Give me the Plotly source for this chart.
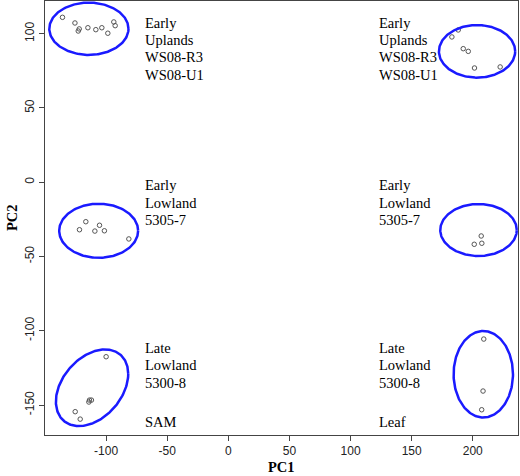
import numpy as np
import plotly.graph_objects as go

# ---- data ----
g1_x = [-135.7, -125.5, -122.0, -122.8, -114.9, -108.4, -103.5, -98.6, -93.7, -92.6]
g1_y = [111.0, 107.2, 103.2, 101.8, 104.0, 102.7, 104.0, 100.3, 107.9, 105.4]
g2_x = [188.1, 182.9, 192.2, 196.3, 201.4, 222.4]
g2_y = [102.5, 97.8, 89.9, 88.1, 76.9, 77.6]
g3_x = [-116.6, -121.8, -109.2, -105.4, -101.4, -81.4]
g3_y = [-26.6, -32.0, -32.9, -29.0, -32.7, -38.2]
g4_x = [206.9, 201.2, 207.4]
g4_y = [-36.2, -41.8, -41.1]
g5_x = [-100.0, -113.6, -112.0, -114.1, -125.3, -121.2]
g5_y = [-117.5, -146.7, -146.7, -148.0, -154.5, -159.5]
g6_x = [209.0, 208.4, 207.3]
g6_y = [-105.6, -140.6, -153.2]

# ellipses: centre x, centre y, half-width, half-height, correlation
ell_cx = [-114.1, 203.5, -106.1, 204.7, -111.5, 208.6]
ell_cy = [103.3, 88.1, -32.7, -32.2, -138.4, -129.3]
ell_rx = [32.4, 31.2, 32.3, 31.3, 29.6, 24.3]
ell_ry = [17.6, 17.7, 18.2, 17.5, 25.8, 29.1]
ell_rho = [0.0, 0.0, 0.0, 0.0, 0.36, 0.0]

left_text_x = -70
right_text_x = 122
group_text_y = [107.5, -2.2, -111.6]
group_lines = [["Early", "Uplands", "WS08-R3", "WS08-U1"],
               ["Early", "Lowland", "5305-7"],
               ["Late", "Lowland", "5300-8"]]
tissue_y = -161.3
tissue_labels = ["SAM", "Leaf"]

x_ticks = [-100, -50, 0, 50, 100, 150, 200]
y_ticks = [-150, -100, -50, 0, 50, 100]

fig = go.Figure()

for xs, ys in [(g1_x, g1_y), (g2_x, g2_y), (g3_x, g3_y), (g4_x, g4_y), (g5_x, g5_y), (g6_x, g6_y)]:
    fig.add_trace(go.Scatter(x=xs, y=ys, mode="markers",
                             marker=dict(symbol="circle-open", size=4.5, color="#555555",
                                         line=dict(width=1, color="#555555")),
                             showlegend=False, hoverinfo="skip"))

t = np.linspace(0, 2 * np.pi, 241)
for cx, cy, rx, ry, rho in zip(ell_cx, ell_cy, ell_rx, ell_ry, ell_rho):
    phi = np.arccos(rho)
    ex = cx + rx * np.cos(t)
    ey = cy + ry * np.cos(t - phi)
    fig.add_trace(go.Scatter(x=ex, y=ey, mode="lines",
                             line=dict(color="#1a1aff", width=2.5),
                             showlegend=False, hoverinfo="skip"))

serif = "Liberation Serif, Times New Roman, serif"
line_px = 17.4
annots = []
for tx in [left_text_x, right_text_x]:
    for gy, lines in zip(group_text_y, group_lines):
        for i, ln in enumerate(lines):
            annots.append(dict(x=tx, y=gy, xref="x", yref="y", text=ln, showarrow=False,
                               xanchor="left", yanchor="middle", yshift=-i * line_px,
                               font=dict(family=serif, size=14.5, color="black")))
for tx, lab in zip([left_text_x, right_text_x], tissue_labels):
    annots.append(dict(x=tx, y=tissue_y, xref="x", yref="y", text=lab, showarrow=False,
                       xanchor="left", yanchor="middle",
                       font=dict(family=serif, size=14.5, color="black")))

annots.append(dict(x=0.5, y=0, xref="paper", yref="paper", text="<b>PC1</b>",
                   showarrow=False, xanchor="center", yanchor="middle", yshift=-32,
                   font=dict(family=serif, size=14.5, color="black")))
annots.append(dict(x=0, y=0.5, xref="paper", yref="paper", text="<b>PC2</b>",
                   showarrow=False, xanchor="center", yanchor="middle", xshift=-33,
                   textangle=-90, font=dict(family=serif, size=14.5, color="black")))

sans = "Liberation Sans, Arial, sans-serif"
fig.update_layout(
    width=520, height=476,
    margin=dict(l=45, r=2, t=1, b=41),
    paper_bgcolor="white", plot_bgcolor="white",
    annotations=annots,
    xaxis=dict(range=[-150, 237], tickvals=x_ticks, ticktext=[str(v) for v in x_ticks],
               showgrid=False, zeroline=False, showline=True, mirror=True,
               linecolor="#444444", linewidth=1, ticks="outside", ticklen=5,
               tickcolor="#444444", tickfont=dict(family=sans, size=12, color="#222222")),
    yaxis=dict(range=[-170.2, 122.0], tickvals=y_ticks, ticktext=[str(v) for v in y_ticks],
               showgrid=False, zeroline=False, showline=True, mirror=True,
               linecolor="#444444", linewidth=1, ticks="outside", ticklen=5,
               tickcolor="#444444", tickangle=-90,
               tickfont=dict(family=sans, size=12, color="#222222")),
)

fig.write_html("out.html", config={"displayModeBar": False},
               post_script="document.body.style.margin='0';document.body.style.overflow='hidden';")
